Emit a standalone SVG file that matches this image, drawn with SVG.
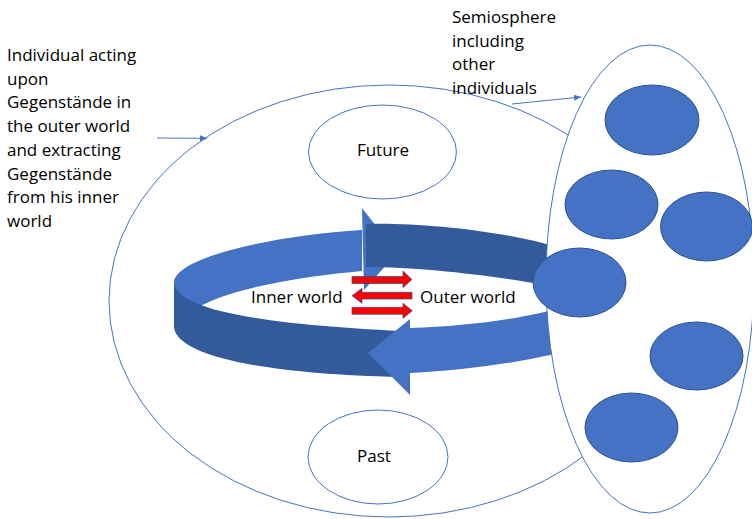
<svg xmlns="http://www.w3.org/2000/svg" width="752" height="519" viewBox="0 0 752 519">
<defs>
<style>
.t{font-family:"Open Sans","Noto Sans","Liberation Sans",sans-serif;font-size:17px;fill:#000}
.ol{fill:#fff;stroke:#4472C4;stroke-width:1}
.dot{fill:#4472C4;stroke:#2F528F;stroke-width:1}
.lt{fill:#4472C4}
.dk{fill:#335A9B}
.red{fill:#FF0000;stroke:#2F528F;stroke-width:0.75}
.con{fill:none;stroke:#4472C4;stroke-width:1}
</style>
<marker id="ah" markerWidth="8" markerHeight="8" refX="7" refY="4" orient="auto" markerUnits="userSpaceOnUse">
<path d="M0,1 L7,4 L0,7 Z" fill="#4472C4"/>
</marker>
</defs>
<rect width="752" height="519" fill="#fff"/>

<g id="individual">
<ellipse class="ol" cx="389" cy="301" rx="280" ry="216"/>
</g>
<g id="future">
<ellipse class="ol" cx="382.5" cy="152" rx="74" ry="47"/>
<text class="t" x="383" y="156" text-anchor="middle">Future</text>
</g>
<g id="past">
<ellipse class="ol" cx="378" cy="457" rx="70" ry="47"/>
<text class="t" x="374" y="462" text-anchor="middle">Past</text>
</g>

<g id="ring">
<path class="lt" d="M174,282 C176,258 268,236 362,230 L362,271 C300,277 200,290 174,327 Z"/>
<polygon class="lt" points="362,208 397,253 364,290"/>
<path class="dk" d="M366,224 C420,222 520,232 570,252 L570,290 C520,279 430,267 366,267 Z"/>
<path class="dk" d="M174,282 C176,310 260,324 400,331 L400,377 C260,374 176,355 174,327 Z"/>
<path class="lt" d="M410,328 C470,326 530,318 570,305 L570,350 C530,361 470,370 410,373 Z"/>
<polygon class="lt" points="368,353 410,319 410,395"/>
</g>

<g id="exchange">
<polygon class="red" points="352,276.5 403,276.5 403,271 412,279.5 403,287.5 403,283.5 352,283.5"/>
<polygon class="red" points="352,295.7 362,288.3 362,292.3 412,292.3 412,299 362,299 362,303.3"/>
<polygon class="red" points="352,307.3 403,307.3 403,303.3 412.3,310.8 403,318.3 403,314.3 352,314.3"/>
</g>
<g id="inner-world"><text class="t" x="251" y="303">Inner world</text></g>
<g id="outer-world"><text class="t" x="420" y="303">Outer world</text></g>

<g id="semiosphere">
<ellipse class="ol" cx="650" cy="279" rx="104" ry="234"/>
</g>
<g id="others">
<ellipse class="dot" cx="652" cy="120" rx="47" ry="35"/>
<ellipse class="dot" cx="611.5" cy="204.5" rx="46.5" ry="34.5"/>
<ellipse class="dot" cx="706.5" cy="226.5" rx="46" ry="34.5"/>
<ellipse class="dot" cx="579.5" cy="282.5" rx="46.5" ry="34.5"/>
<ellipse class="dot" cx="696.5" cy="356" rx="46.5" ry="34"/>
<ellipse class="dot" cx="631.5" cy="427.5" rx="46.5" ry="34.5"/>
</g>

<g id="label-individual">
<text class="t" x="7" y="61">
<tspan x="7" dy="0">Individual acting</tspan>
<tspan x="7" dy="23.7">upon</tspan>
<tspan x="7" dy="23.7">Gegenstände in</tspan>
<tspan x="7" dy="23.7">the outer world</tspan>
<tspan x="7" dy="23.7">and extracting</tspan>
<tspan x="7" dy="23.7">Gegenstände</tspan>
<tspan x="7" dy="23.7">from his inner</tspan>
<tspan x="7" dy="23.7">world</tspan>
</text>
</g>
<g id="label-semiosphere">
<text class="t" x="452" y="23">
<tspan x="452" dy="0">Semiosphere</tspan>
<tspan x="452" dy="23.5">including</tspan>
<tspan x="452" dy="23.5">other</tspan>
<tspan x="452" dy="23.5">individuals</tspan>
</text>
</g>

<g id="connectors">
<line class="con" x1="157" y1="138" x2="207" y2="138.3" marker-end="url(#ah)"/>
<line class="con" x1="512" y1="104" x2="581" y2="97" marker-end="url(#ah)"/>
</g>
</svg>
